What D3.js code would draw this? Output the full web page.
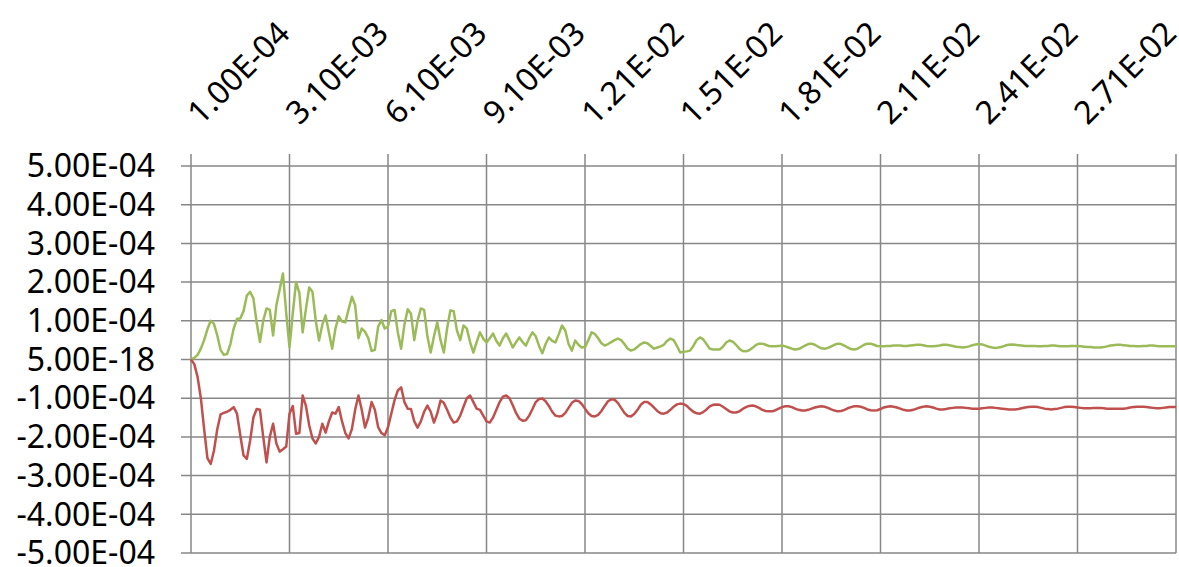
<!DOCTYPE html>
<html>
<head>
<meta charset="utf-8">
<script src="https://cdn.jsdelivr.net/npm/d3@7"></script>
<style>
  html, body { margin: 0; padding: 0; background: #fff; }
  svg text { font-family: "Noto Sans", "DejaVu Sans", sans-serif; fill: #000; }
</style>
</head>
<body>
<svg id="chart" width="1179" height="567"></svg>
<script>
// values are in units of 1E-06
const unit = 1e-6;

const green = [
  0, 4, 12, 28, 50, 78, 100, 92, 62, 25,
  12, 14, 40, 80, 105, 106, 125, 165, 175, 158,
  95, 45, 100, 132, 128, 62, 140, 180, 222, 120,
  31, 120, 200, 172, 70, 130, 186, 175, 100, 49,
  90, 114, 70, 28, 80, 112, 98, 96, 130, 162,
  140, 55, 80, 72, 55, 22, 25, 85, 102, 80,
  85, 125, 128, 70, 28, 90, 130, 118, 50, 100,
  132, 128, 60, 18, 60, 96, 50, 18, 80, 127,
  125, 75, 50, 88, 80, 45, 18, 45, 70, 54,
  44, 55, 67, 48, 36, 55, 67, 50, 31, 45,
  57, 45, 36, 55, 70, 60, 35, 16, 40, 57,
  48, 44, 65, 88, 75, 40, 23, 49, 38, 31,
  32, 50, 70, 66, 55, 42, 36, 40, 45, 50,
  54, 50, 40, 28, 23, 26, 33, 40, 44, 42,
  35, 28, 31, 34, 38, 48, 54, 50, 35, 18,
  20, 21, 23, 35, 50, 57, 52, 40, 28, 26,
  26, 26, 33, 44, 49, 46, 38, 28, 22, 21,
  24, 30, 37, 41, 41, 38, 35, 34, 34, 35,
  36, 34, 31, 28, 26, 27, 31, 36, 40, 41,
  38, 33, 29, 28, 30, 34, 38, 41, 40, 36,
  31, 27, 26, 28, 33, 38, 41, 41, 38, 35,
  34, 34, 35, 35, 36, 36, 36, 35, 35, 36,
  37, 38, 38, 37, 35, 34, 34, 35, 36, 38,
  38, 37, 35, 33, 32, 31, 32, 34, 37, 39,
  40, 39, 36, 33, 31, 30, 31, 33, 36, 38,
  39, 38, 37, 36, 35, 35, 35, 35, 34, 34,
  35, 35, 36, 36, 35, 34, 34, 34, 35, 35,
  35, 34, 33, 32, 32, 31, 31, 31, 32, 34,
  36, 37, 38, 38, 37, 36, 35, 35, 34, 34,
  35, 35, 36, 36, 35, 34, 34, 34, 34, 34,
  34
];

const red = [
  0, -12, -45, -100, -180, -255, -270, -235, -180, -142,
  -138, -135, -130, -123, -140, -195, -248, -257, -210, -150,
  -128, -130, -200, -266, -200, -166, -217, -238, -232, -225,
  -140, -120, -192, -190, -93, -120, -170, -204, -217, -200,
  -166, -189, -160, -137, -140, -123, -160, -190, -204, -180,
  -130, -93, -130, -176, -150, -110, -130, -175, -190, -196,
  -175, -140, -105, -80, -72, -110, -127, -128, -160, -176,
  -160, -135, -119, -135, -163, -140, -106, -112, -130, -150,
  -163, -160, -145, -122, -100, -93, -110, -127, -130, -145,
  -160, -163, -150, -130, -110, -96, -93, -100, -118, -138,
  -153, -158, -157, -145, -128, -110, -102, -101, -108, -120,
  -135, -145, -147, -146, -138, -125, -112, -106, -107, -115,
  -127, -139, -146, -147, -143, -133, -120, -108, -103, -104,
  -112, -125, -138, -146, -147, -141, -130, -117, -110, -110,
  -116, -124, -133, -139, -140, -137, -130, -122, -116, -114,
  -115, -120, -128, -135, -139, -140, -136, -129, -121, -117,
  -116, -117, -122, -128, -134, -137, -137, -134, -128, -123,
  -120, -119, -121, -125, -130, -133, -134, -134, -131, -127,
  -123, -121, -121, -123, -127, -130, -132, -132, -130, -127,
  -124, -122, -121, -122, -125, -129, -132, -134, -133, -130,
  -126, -123, -121, -121, -122, -125, -129, -131, -132, -131,
  -128, -124, -122, -121, -122, -124, -127, -130, -132, -132,
  -130, -127, -124, -122, -121, -122, -124, -127, -129, -129,
  -128, -126, -125, -124, -124, -124, -125, -126, -127, -127,
  -127, -126, -125, -124, -124, -125, -126, -127, -128, -129,
  -129, -129, -128, -126, -124, -123, -122, -122, -123, -125,
  -127, -128, -129, -128, -127, -125, -123, -122, -122, -123,
  -124, -125, -126, -126, -126, -125, -125, -125, -126, -127,
  -127, -127, -127, -127, -127, -126, -124, -123, -122, -122,
  -122, -123, -124, -125, -126, -126, -125, -124, -123, -123,
  -123
];

// category values: 1.00E-04 ... 3.01E-02
const xFirst = 1e-4;
const xStep = 1e-4;
const categories = green.map((_, i) => xFirst + i * xStep);

const xTickLabels = ['1.00E-04', '3.10E-03', '6.10E-03', '9.10E-03', '1.21E-02',
  '1.51E-02', '1.81E-02', '2.11E-02', '2.41E-02', '2.71E-02'];

const yTicks = [5e-4, 4e-4, 3e-4, 2e-4, 1e-4, 0, -1e-4, -2e-4, -3e-4, -4e-4, -5e-4];
const yTickLabels = ['5.00E-04', '4.00E-04', '3.00E-04', '2.00E-04', '1.00E-04', '5.00E-18',
  '-1.00E-04', '-2.00E-04', '-3.00E-04', '-4.00E-04', '-5.00E-04'];

const seriesList = [
  { name: 'green', values: green, color: '#9BBB59' },
  { name: 'red', values: red, color: '#C0504D' },
];

const c = {
  margin: { left: 191, right: 3, top: 166, bottom: 14 },
  width: 1179,
  height: 567,
  gridColor: '#878787',
  fontSize: 32,
};

const svg = d3.select('#chart');

const xScale = d3.scaleLinear([0, categories.length - 1], [c.margin.left, c.width - c.margin.right]);
const yScale = d3.scaleLinear([-5e-4, 5e-4], [c.height - c.margin.bottom, c.margin.top]);

// tick indices on the category axis (every 30 categories, plus the end)
const tickIdx = xTickLabels.map((l) => categories.findIndex((v) => Math.abs(v - +l) < 1e-9));
const gridIdx = tickIdx.concat([categories.length - 1]);

// grid
const grid = svg.append('g').attr('stroke', c.gridColor).attr('stroke-width', 1.5);
grid.selectAll('line.h')
  .data(yTicks)
  .join('line')
  .attr('x1', c.margin.left - 10)
  .attr('x2', c.width - c.margin.right)
  .attr('y1', (d) => yScale(d))
  .attr('y2', (d) => yScale(d));

grid.selectAll('line.v')
  .data(gridIdx)
  .join('line')
  .attr('x1', (d) => xScale(d))
  .attr('x2', (d) => xScale(d))
  .attr('y1', c.margin.top - 12)
  .attr('y2', c.height - c.margin.bottom);

// y labels
svg.append('g')
  .selectAll('text')
  .data(yTicks)
  .join('text')
  .attr('x', 155)
  .attr('y', (d) => yScale(d))
  .attr('dy', '0.35em')
  .attr('text-anchor', 'end')
  .attr('font-size', c.fontSize)
  .text((d, i) => yTickLabels[i]);

// x labels (top, rotated)
svg.append('g')
  .selectAll('text')
  .data(tickIdx)
  .join('text')
  .attr('transform', (d) => `translate(${xScale(d) + 10},${126}) rotate(-45)`)
  .attr('text-anchor', 'start')
  .attr('font-size', c.fontSize)
  .text((d, i) => xTickLabels[i]);

// lines
const line = d3.line()
  .x((d, i) => xScale(i))
  .y((d) => yScale(d * unit));

svg.append('g')
  .selectAll('path')
  .data(seriesList)
  .join('path')
  .attr('fill', 'none')
  .attr('stroke', (d) => d.color)
  .attr('stroke-width', 2.5)
  .attr('stroke-linejoin', 'round')
  .attr('d', (d) => line(d.values));
</script>
</body>
</html>
